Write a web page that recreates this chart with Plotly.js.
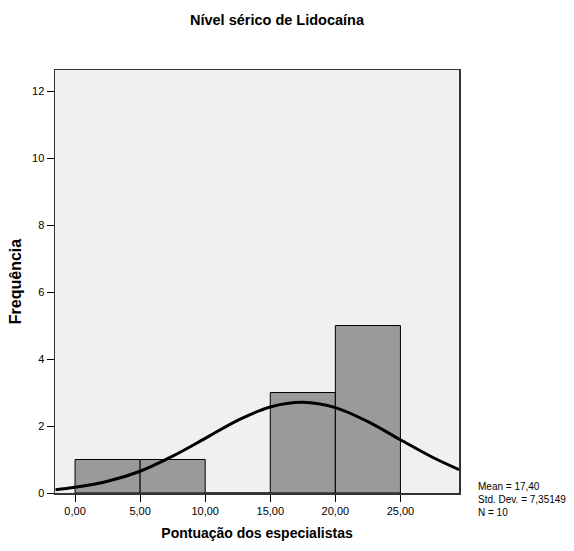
<!DOCTYPE html>
<html>
<head>
<meta charset="utf-8">
<script src="https://cdn.plot.ly/plotly-3.0.1.min.js"></script>
<style>html,body{margin:0;padding:0;background:#fff;}#chart{width:574px;height:551px;}</style>
</head>
<body>
<div id="chart"></div>
<script>
// Histogram bins (centers) and counts
var binCenters = [2.5, 7.5, 12.5, 17.5, 22.5];
var binCounts = [1, 1, 0, 3, 5];
var binWidth = 5;
// Fitted normal curve
var curveX = [-1.5, 0, 2.5, 5, 7.5, 10, 12.5, 15, 17.5, 20, 22.5, 25, 27.5, 29.5];
var curveY = [0.10, 0.17, 0.35, 0.65, 1.10, 1.63, 2.17, 2.57, 2.71, 2.55, 2.13, 1.59, 1.06, 0.70];
var xTickVals = [0, 5, 10, 15, 20, 25];
var xTickText = ["0,00", "5,00", "10,00", "15,00", "20,00", "25,00"];
var yTickVals = [0, 2, 4, 6, 8, 10, 12];
var statsText = ["Mean = 17,40", "Std. Dev. = 7,35149", "N = 10"];

var F = "Liberation Sans Narrow, Arial Narrow, Liberation Sans, Arial, sans-serif";

var traces = [
  {
    type: "bar",
    x: binCenters,
    y: binCounts,
    width: binCenters.map(function(){return binWidth;}),
    marker: {color: "#9a9a9a", line: {color: "#000", width: 1}},
    hoverinfo: "skip"
  },
  {
    type: "scatter",
    mode: "lines",
    x: curveX,
    y: curveY,
    line: {color: "#000", width: 3, shape: "spline"},
    hoverinfo: "skip"
  }
];

var layout = {
  width: 574,
  height: 551,
  margin: {l: 55, r: 115, t: 70, b: 58},
  paper_bgcolor: "#fff",
  plot_bgcolor: "#f0f0f0",
  showlegend: false,
  bargap: 0,
  font: {family: F, color: "#000", size: 11},
  title: {
    text: "<b>Nível sérico de Lidocaína</b>",
    font: {family: F, size: 14.5, color: "#000"},
    x: 0.4826, xanchor: "center", xref: "container",
    y: 0.9637, yanchor: "middle", yref: "container"
  },
  xaxis: {
    range: [-1.54, 29.5],
    tickvals: xTickVals,
    ticktext: xTickText,
    ticks: "outside",
    ticklen: 7,
    tickcolor: "#000",
    tickwidth: 1,
    showgrid: false,
    zeroline: false,
    showline: true,
    linecolor: "#333",
    linewidth: 1.5,
    mirror: true,
    tickfont: {family: F, size: 11, color: "#000"},
    title: {text: "<b>Pontuação dos especialistas</b>", font: {family: F, size: 14, color: "#000"}, standoff: 12}
  },
  yaxis: {
    range: [0, 12.63],
    tickvals: yTickVals,
    ticks: "outside",
    ticklen: 7,
    tickcolor: "#000",
    tickwidth: 1,
    showgrid: false,
    zeroline: false,
    showline: true,
    linecolor: "#333",
    linewidth: 1.5,
    mirror: true,
    tickfont: {family: F, size: 11, color: "#000"},
    title: {text: "<b>Frequência</b>", font: {family: F, size: 16, color: "#000"}, standoff: 6}
  },
  annotations: [
    {
      xref: "paper", yref: "paper",
      x: 1.043, y: -0.0165,
      xanchor: "left", yanchor: "middle",
      align: "left",
      showarrow: false,
      text: statsText.join("<br>"),
      font: {family: F, size: 10, color: "#000"}
    }
  ]
};

Plotly.newPlot("chart", traces, layout, {displayModeBar: false, staticPlot: true});
</script>
</body>
</html>
